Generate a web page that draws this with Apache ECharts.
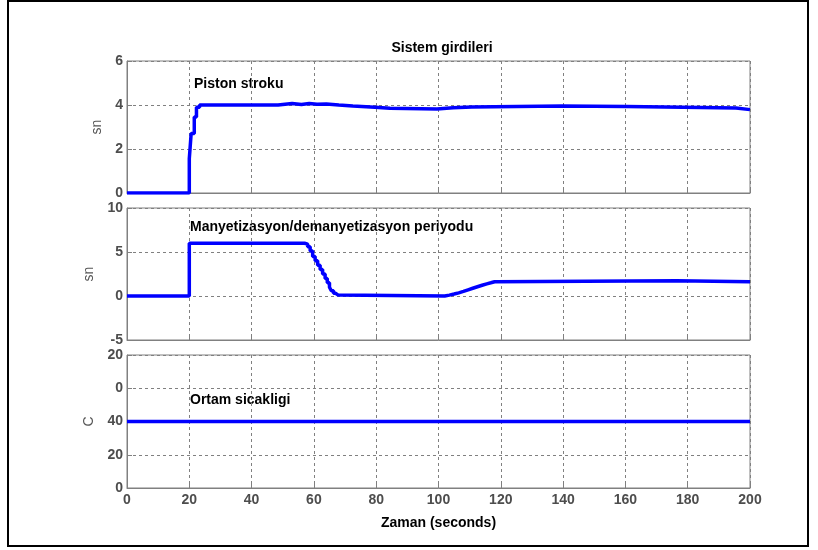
<!DOCTYPE html>
<html>
<head>
<meta charset="utf-8">
<script src="https://cdn.jsdelivr.net/npm/echarts@6/dist/echarts.min.js"></script>
<style>html,body{margin:0;padding:0;background:#fff}#c{width:818px;height:550px}</style>
</head>
<body>
<div id="c"></div>
<script>
// Piston stroku (sn)
const pistonT = [0, 20, 20.6, 21.6, 22.3, 23.3, 48.5, 53, 56, 58.5, 61, 64, 68, 72.5, 79.6, 84.4, 99.5, 104.7, 110.7, 139.5, 160.4, 178.5, 195.5, 200];
const pistonV = [0, 1.56, 2.71, 3.45, 3.9, 4.0, 4.07, 4.02, 4.07, 4.03, 4.05, 4.0, 3.95, 3.9, 3.85, 3.82, 3.87, 3.91, 3.96, 3.93, 3.9, 3.86, 3.79, 3.79];
// Manyetizasyon/demanyetizasyon periyodu (sn)
const magT = [0, 20, 57, 58, 58.8, 59.6, 60.4, 61.2, 62, 62.8, 63.6, 64.3, 65, 65.6, 66.3, 67, 67.8,
  102, 103.5, 105, 106.5, 108, 109.5, 111, 112.5, 114, 115.5, 116.8, 118, 176.5, 200];
const magV = [0, 6, 5.9, 5.6, 5.1, 4.5, 4.0, 3.5, 3.0, 2.5, 2.0, 1.5, 1.0, 0.6, 0.3, 0.1, 0,
  0.1, 0.22, 0.36, 0.52, 0.7, 0.88, 1.05, 1.22, 1.38, 1.5, 1.62, 1.72, 1.62, 1.62];
// Ortam sicakligi (C)
const tempT = [0, 200];
const tempV = [40, 40];
// tick labels of the third axis (bottom to top)
const tempTickLabels = ['0', '20', '40', '0', '20'];

const pairs = (t, v) => t.map((x, i) => [x, v[i]]);

const GRAY = '#808080';
const LABEL = '#4d4d4d';
const FONT = 'Liberation Sans, Arial, Helvetica, sans-serif';

const grids = [
  {left: 127, width: 623, top: 61, height: 132},
  {left: 127, width: 623, top: 208, height: 132},
  {left: 127, width: 623, top: 355, height: 133}
].map(g => Object.assign(g, {show: true, borderColor: GRAY, borderWidth: 1, containLabel: false}));

function xAxis(i, showLabels) {
  return {
    type: 'value', gridIndex: i, min: 0, max: 200, interval: 20,
    axisLine: {show: true, onZero: false, lineStyle: {color: GRAY}},
    axisTick: {show: true, inside: true, length: 5, lineStyle: {color: GRAY}},
    axisLabel: {show: showLabels, color: LABEL, fontSize: 14, fontWeight: 'bold', fontFamily: FONT, margin: 5},
    splitLine: {show: true, lineStyle: {color: GRAY, type: [3, 3], width: 1}},
    name: showLabels ? 'Zaman (seconds)' : '',
    nameLocation: 'middle', nameGap: 28,
    nameTextStyle: {color: '#000', fontSize: 14, fontWeight: 'bold', fontFamily: FONT}
  };
}
function yAxis(i, min, max, interval, name, gap, fmt) {
  return {
    type: 'value', gridIndex: i, min: min, max: max, interval: interval,
    axisLine: {show: true, onZero: false, lineStyle: {color: GRAY}},
    axisTick: {show: true, inside: true, length: 5, lineStyle: {color: GRAY}},
    axisLabel: {color: LABEL, fontSize: 14, fontWeight: 'bold', fontFamily: FONT, margin: 4,
      formatter: fmt || (v => String(v))},
    splitLine: {show: true, lineStyle: {color: GRAY, type: [3, 3], width: 1}},
    name: name, nameLocation: 'middle', nameGap: gap,
    nameTextStyle: {color: '#555', fontSize: 14, fontFamily: FONT}
  };
}

const line = (i, data) => ({
  type: 'line', xAxisIndex: i, yAxisIndex: i, data: data, step: 'end',
  showSymbol: false, symbol: 'none', animation: false,
  lineStyle: {color: '#0000ff', width: 3.5}
});

const chart = echarts.init(document.getElementById('c'), null, {renderer: 'canvas'});
chart.setOption({
  animation: false,
  backgroundColor: '#fff',
  title: {text: 'Sistem girdileri', left: 437, top: 36, textAlign: 'center',
    textStyle: {color: '#000', fontSize: 14, fontWeight: 'bold', fontFamily: FONT}},
  grid: grids,
  xAxis: [xAxis(0, false), xAxis(1, false), xAxis(2, true)],
  yAxis: [
    yAxis(0, 0, 6, 2, 'sn', 20),
    yAxis(1, -5, 10, 5, 'sn', 28),
    yAxis(2, 0, 80, 20, 'C', 30, v => tempTickLabels[Math.round(v / 20)])
  ],
  series: [line(0, pairs(pistonT, pistonV)), line(1, pairs(magT, magV)), line(2, pairs(tempT, tempV))],
  graphic: [
    {type: 'rect', shape: {x: 8, y: 1, width: 800, height: 545}, style: {fill: 'none', stroke: '#000', lineWidth: 2}, silent: true},
    {type: 'text', x: 194, y: 84, style: {text: 'Piston stroku', fill: '#000', font: 'bold 14px ' + FONT, textVerticalAlign: 'middle'}},
    {type: 'text', x: 190, y: 227, style: {text: 'Manyetizasyon/demanyetizasyon periyodu', fill: '#000', font: 'bold 14px ' + FONT, textVerticalAlign: 'middle'}},
    {type: 'text', x: 190, y: 400, style: {text: 'Ortam sicakligi', fill: '#000', font: 'bold 14px ' + FONT, textVerticalAlign: 'middle'}}
  ]
});
</script>
</body>
</html>
